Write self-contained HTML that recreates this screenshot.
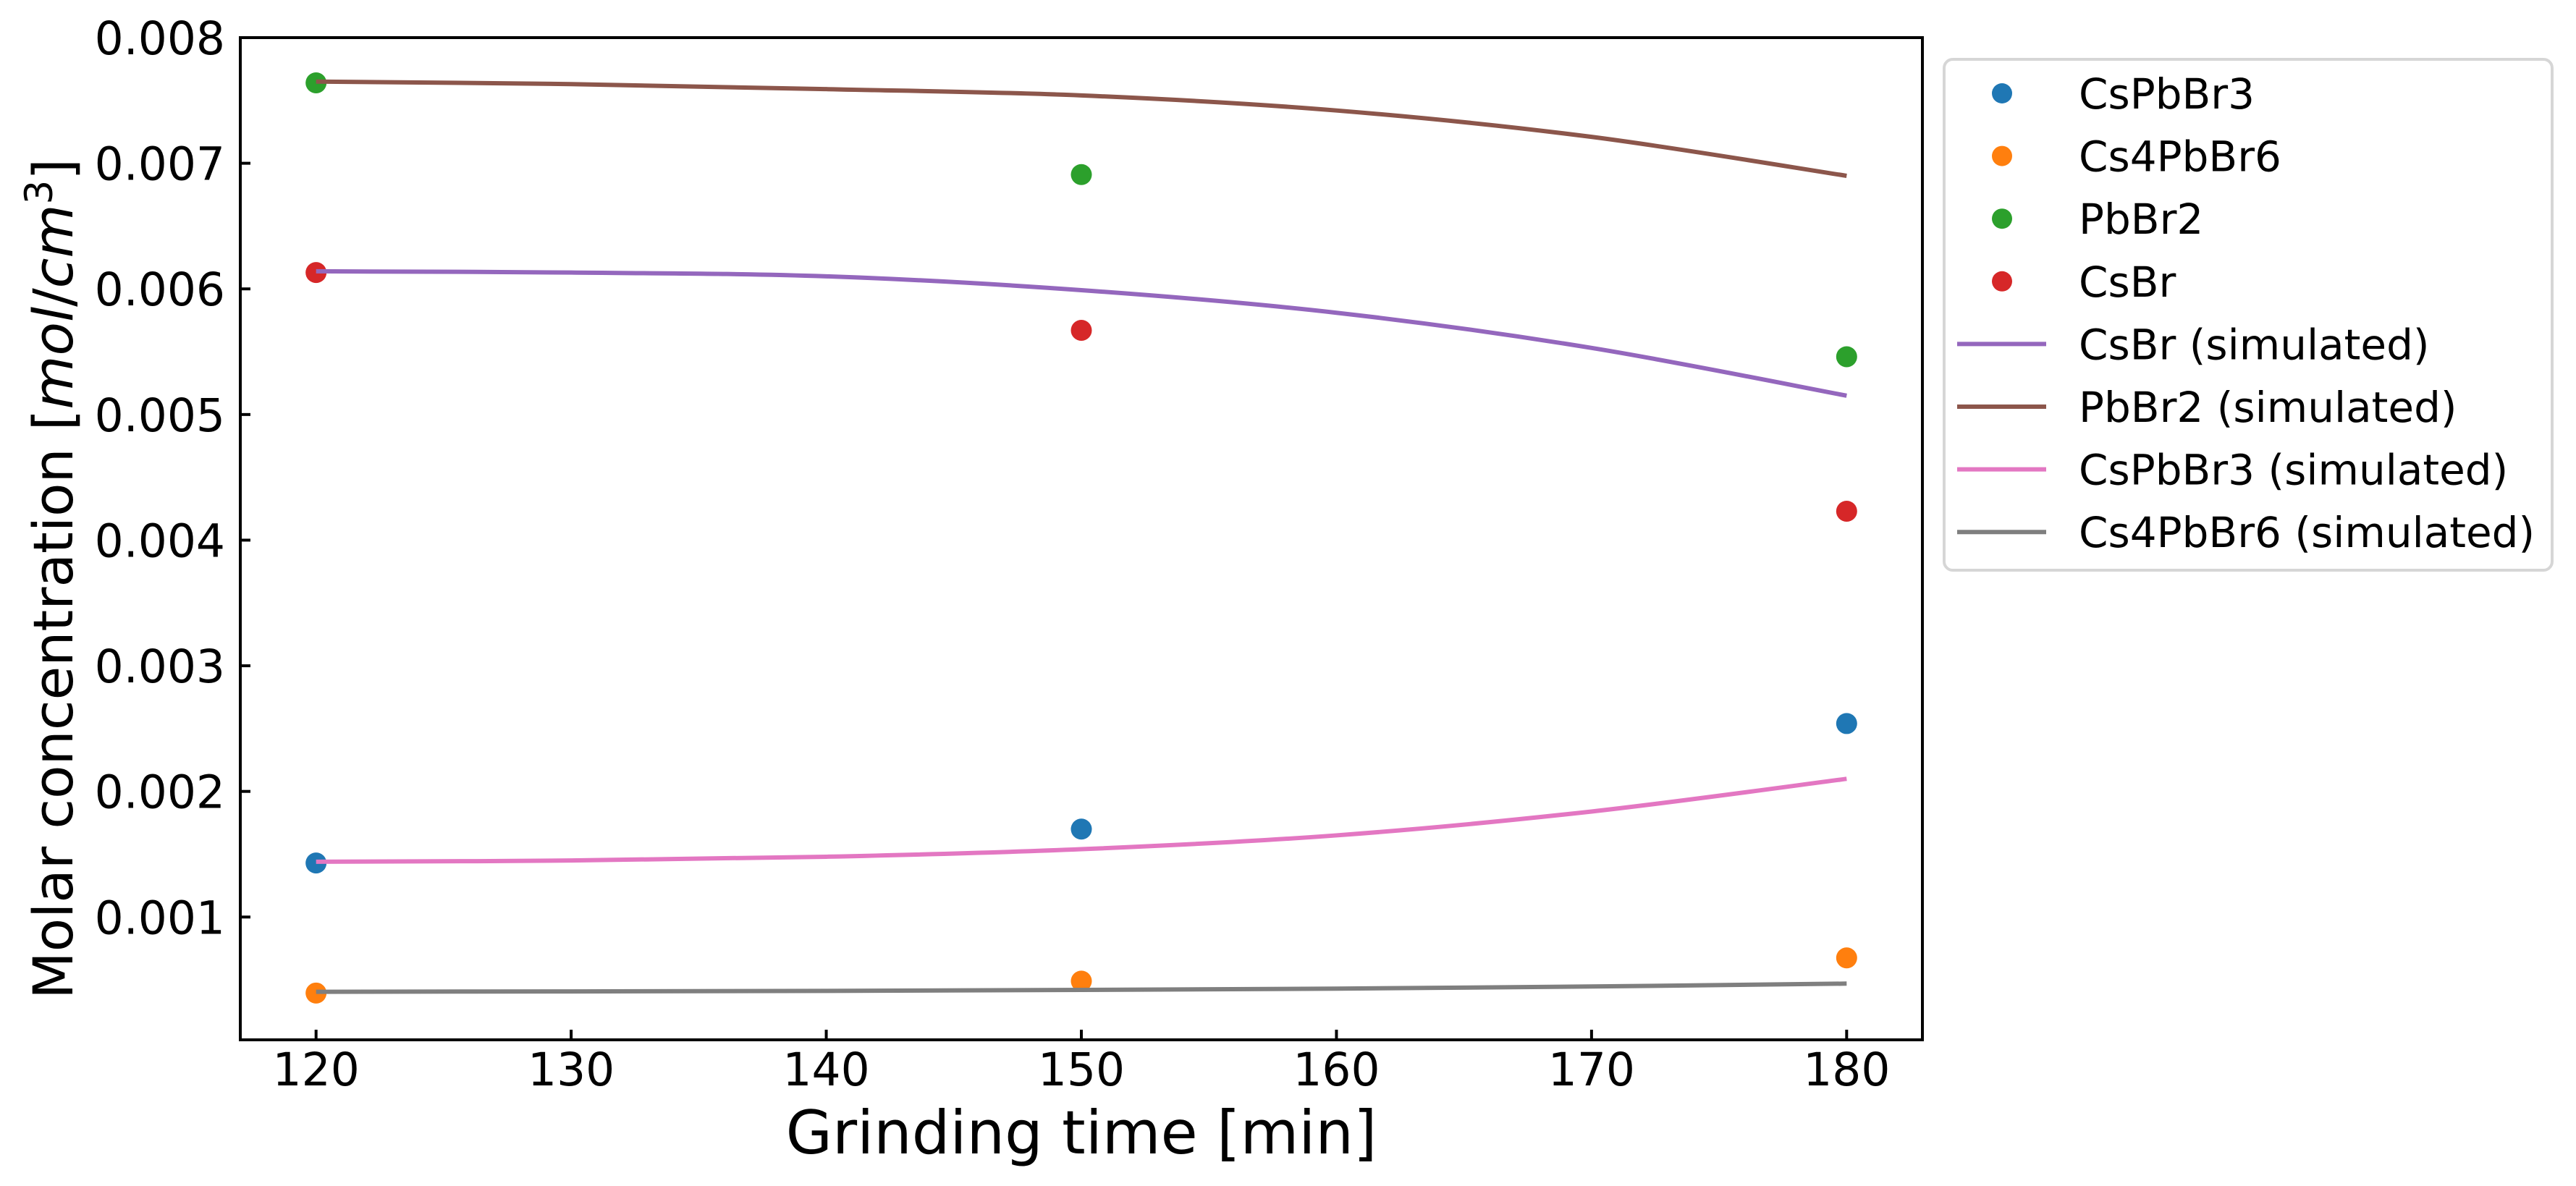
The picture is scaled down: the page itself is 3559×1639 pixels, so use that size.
<!DOCTYPE html>
<html><head><meta charset="utf-8"><style>
html,body{margin:0;padding:0;background:#fff}
svg{display:block;font-family:"DejaVu Sans","Liberation Sans",sans-serif}
</style></head><body>
<svg id="chart" width="3559" height="1639" viewBox="0 0 3559 1639" xmlns="http://www.w3.org/2000/svg">
<rect width="3559" height="1639" fill="#fff"/>
<g id="marks"></g>
<g id="axes"></g>
<text x="1494" y="1594" font-size="83" text-anchor="middle">Grinding time [min]</text>
<text transform="translate(100,800) rotate(-90)" font-size="76" text-anchor="middle">Molar concentration [<tspan font-style="italic">mol</tspan>/<tspan font-style="italic">cm</tspan><tspan font-size="53" dy="-28">3</tspan><tspan dy="28">]</tspan></text>
<g id="legend"></g>
</svg>
<script>
const times = [120, 150, 180];
const csPbBr3 = [0.00143, 0.00170, 0.00254];
const cs4PbBr6 = [0.000395, 0.000490, 0.000675];
const pbBr2 = [0.00764, 0.00691, 0.00546];
const csBr = [0.00613, 0.00567, 0.00423];
const simTimes = [120, 130, 140, 150, 160, 170, 180];
const csBrSim = [0.00614, 0.00613, 0.00610, 0.00599, 0.00581, 0.00553, 0.00515];
const pbBr2Sim = [0.00765, 0.00763, 0.00759, 0.00754, 0.00742, 0.00721, 0.00690];
const csPbBr3Sim = [0.00144, 0.00145, 0.00148, 0.00154, 0.00165, 0.00184, 0.00210];
const cs4PbBr6Sim = [0.000405, 0.000408, 0.000412, 0.000420, 0.000430, 0.000447, 0.000470];
const xTicks = [120, 130, 140, 150, 160, 170, 180];
const yTicks = [0.001, 0.002, 0.003, 0.004, 0.005, 0.006, 0.007, 0.008];
const yTickLabels = ["0.001","0.002","0.003","0.004","0.005","0.006","0.007","0.008"];

const NS = "http://www.w3.org/2000/svg";
const L = 332, R = 2656, T = 52, B = 1437;
const xMin = 117.03, xMax = 182.97, yMin = 0.0000225, yMax = 0.008;
function xs(v){ return L + (v - xMin) / (xMax - xMin) * (R - L); }
function ys(v){ return B - (v - yMin) / (yMax - yMin) * (B - T); }
function mk(tag, attrs, parent){ const e = document.createElementNS(NS, tag); for (const k in attrs) e.setAttribute(k, attrs[k]); parent.appendChild(e); return e; }

const marks = document.getElementById('marks');
const axes = document.getElementById('axes');
const legend = document.getElementById('legend');

function smoothPath(xv, yv){
  const p = xv.map((x,i)=>[xs(x), ys(yv[i])]);
  let d = `M${p[0][0]},${p[0][1]}`;
  for (let i=0;i<p.length-1;i++){
    const p0=p[Math.max(i-1,0)], p1=p[i], p2=p[i+1], p3=p[Math.min(i+2,p.length-1)];
    const c1=[p1[0]+(p2[0]-p0[0])/6, p1[1]+(p2[1]-p0[1])/6];
    const c2=[p2[0]-(p3[0]-p1[0])/6, p2[1]-(p3[1]-p1[1])/6];
    d += ` C${c1[0]},${c1[1]} ${c2[0]},${c2[1]} ${p2[0]},${p2[1]}`;
  }
  return d;
}

const lineSeries = [
  {name:'csbr-simulated-line', vals: csBrSim, color:'#9467bd', label:'CsBr (simulated)'},
  {name:'pbbr2-simulated-line', vals: pbBr2Sim, color:'#8c564b', label:'PbBr2 (simulated)'},
  {name:'cspbbr3-simulated-line', vals: csPbBr3Sim, color:'#e377c2', label:'CsPbBr3 (simulated)'},
  {name:'cs4pbbr6-simulated-line', vals: cs4PbBr6Sim, color:'#7f7f7f', label:'Cs4PbBr6 (simulated)'}
];
const pointSeries = [
  {name:'cspbbr3-point', vals: csPbBr3, color:'#1f77b4', label:'CsPbBr3'},
  {name:'cs4pbbr6-point', vals: cs4PbBr6, color:'#ff7f0e', label:'Cs4PbBr6'},
  {name:'pbbr2-point', vals: pbBr2, color:'#2ca02c', label:'PbBr2'},
  {name:'csbr-point', vals: csBr, color:'#d62728', label:'CsBr'}
];

pointSeries.forEach(s=>{
  s.vals.forEach((v,i)=>{
    const c = mk('circle', {cx: xs(times[i]), cy: ys(v), r: 14.5, fill: s.color}, marks);
    
    
  });
});
lineSeries.forEach(s=>{
  const p = mk('path', {d: smoothPath(simTimes, s.vals), fill:'none', stroke:s.color, 'stroke-width':6}, marks);
  
  
});

const fr = mk('rect', {x:L, y:T, width:R-L, height:B-T, fill:'none', stroke:'#000', 'stroke-width':4}, axes);



xTicks.forEach(t=>{
  const x = xs(t);
  const tk = mk('line', {x1:x, x2:x, y1:B, y2:B-14, stroke:'#000', 'stroke-width':4}, axes);
  
  
  const tx = mk('text', {x:x, y:1500, 'font-size':63, 'text-anchor':'middle'}, axes);
  tx.textContent = t;
  
  
});
yTicks.forEach((t,i)=>{
  const y = ys(t);
  const tk = mk('line', {x1:L, x2:L+14, y1:y, y2:y, stroke:'#000', 'stroke-width':4}, axes);
  
  
  const tx = mk('text', {x:311, y:y+23, 'font-size':63, 'text-anchor':'end'}, axes);
  tx.textContent = yTickLabels[i];
  
  
});

const lb = mk('rect', {x:2686, y:82, width:840, height:706, rx:12, fill:'#fff', stroke:'#d6d6d6', 'stroke-width':4}, legend);


const entries = pointSeries.concat(lineSeries);
entries.forEach((s,i)=>{
  const y = 129 + i*86.6;
  const g = mk('g', {}, legend);
  
  
  if (i < 4) mk('circle', {cx:2766, cy:y, r:14, fill:s.color}, g);
  else mk('line', {x1:2704, x2:2827, y1:y, y2:y, stroke:s.color, 'stroke-width':6}, g);
  const t = mk('text', {x:2872, y:y+21, 'font-size':58}, g);
  t.textContent = s.label;
});
</script>
</body></html>
